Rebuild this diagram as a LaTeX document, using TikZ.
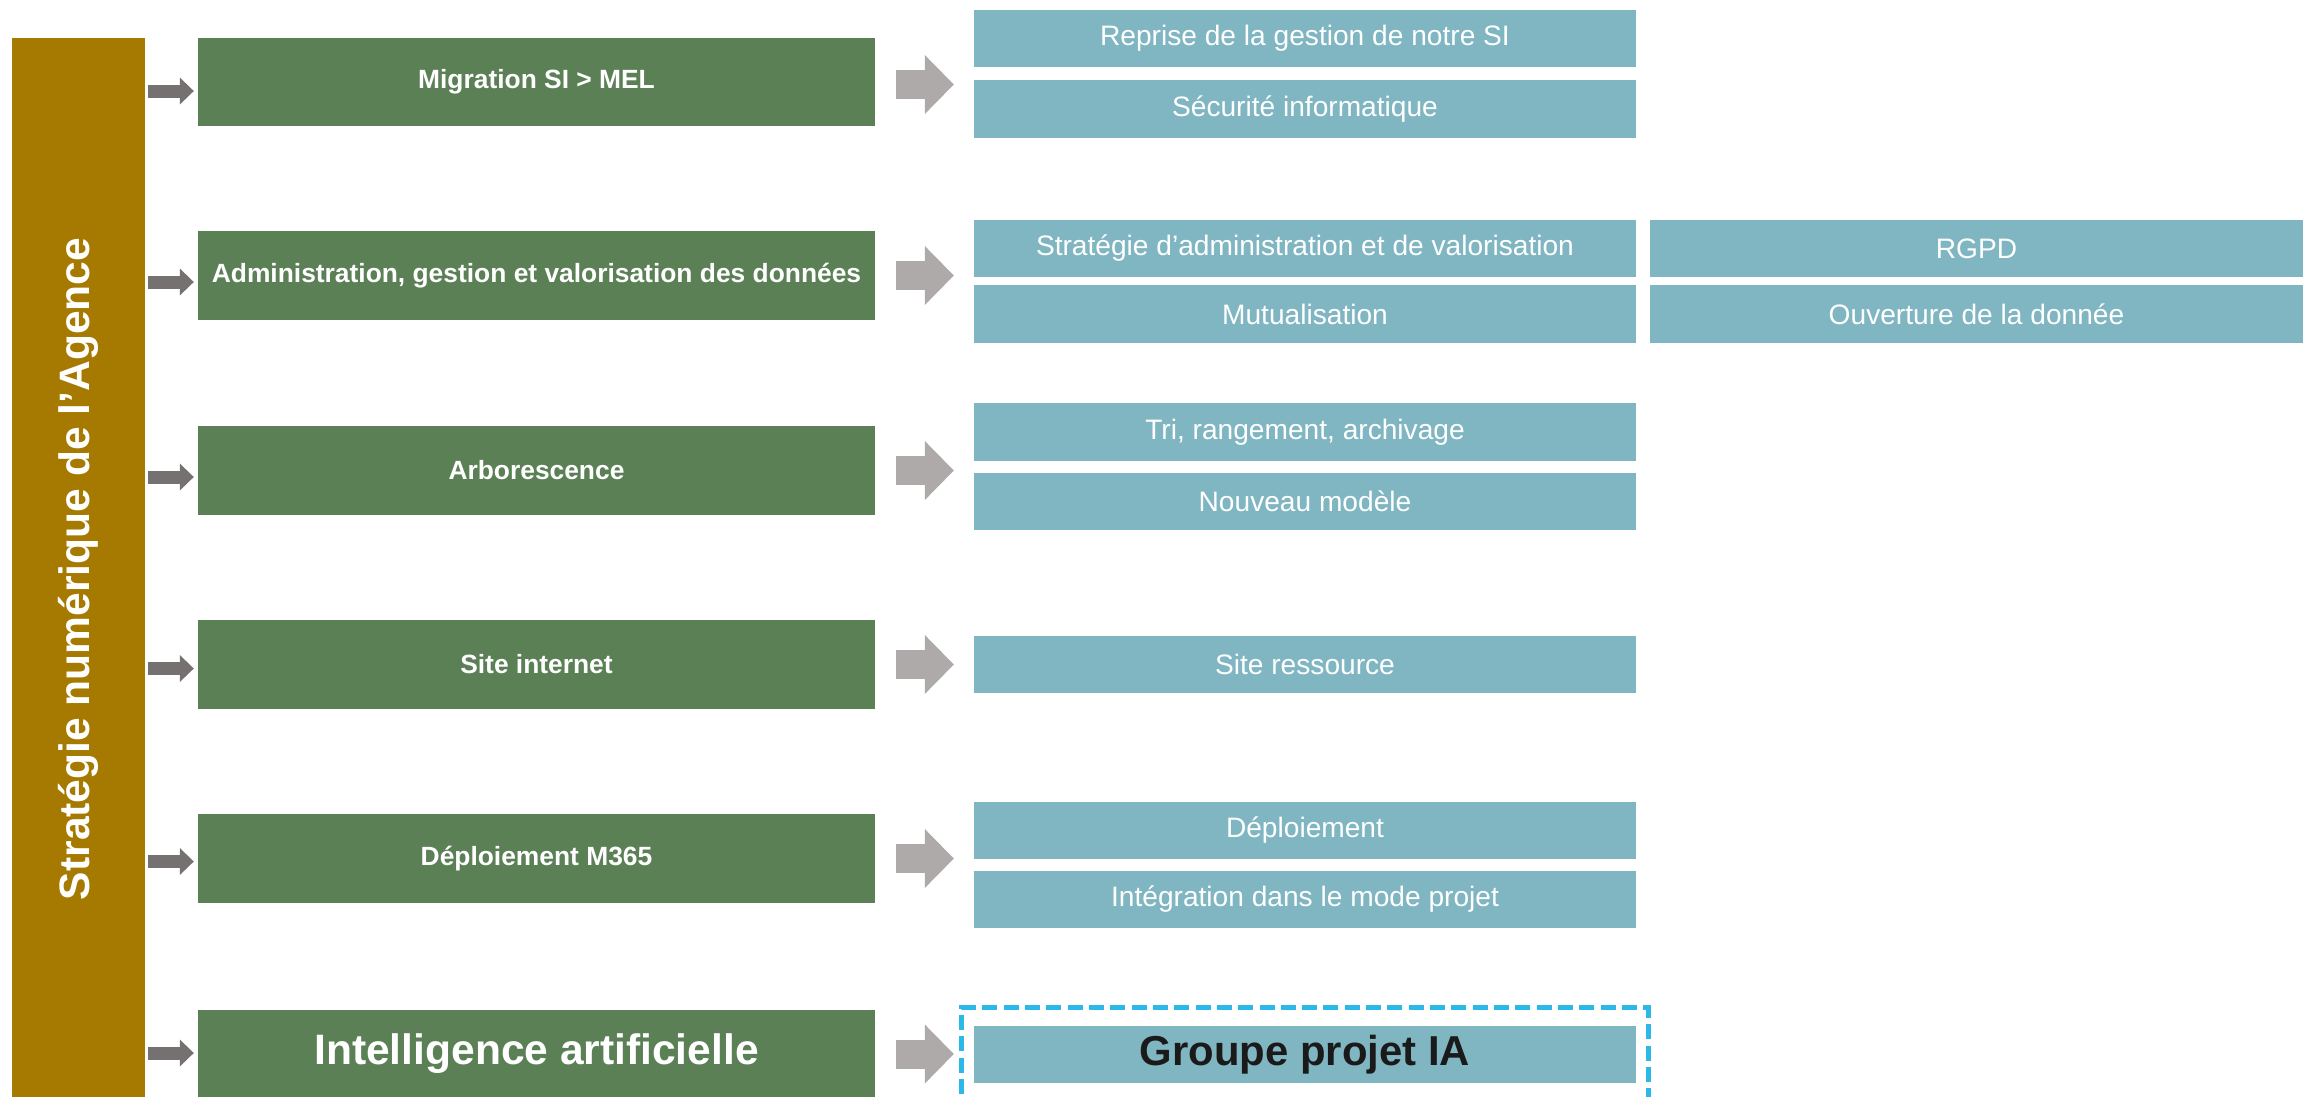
\documentclass[tikz,border=0pt]{standalone}
\usepackage{fontspec}
\usepackage{graphicx}
\setmainfont{Liberation Sans}
\usetikzlibrary{arrows.meta,calc}
\definecolor{gold}{HTML}{A67A00}
\definecolor{grn}{HTML}{5B8056}
\definecolor{blu}{HTML}{7FB6C2}
\definecolor{sgray}{HTML}{767171}
\definecolor{bgray}{HTML}{AEAAAA}
\definecolor{dashblue}{HTML}{2DB8EA}
\definecolor{darktext}{HTML}{1A1A1A}
\begin{document}
\begin{tikzpicture}[x=0.01cm,y=-0.01cm,
  every node/.style={inner sep=0pt, outer sep=0pt},
  barbox/.style={fill=gold, text=white, font=\bfseries\fontsize{12.1}{14}\selectfont, minimum width=1.33cm, minimum height=10.62cm},
  greenbox/.style={fill=grn, text=white, font=\bfseries\fontsize{7.5}{9}\selectfont, minimum width=6.77cm, minimum height=0.88cm},
  bluebox/.style={fill=blu, text=white, font=\fontsize{8}{10}\selectfont, minimum height=0.57cm},
  leftcol/.style={bluebox, minimum width=6.62cm},
  rightcol/.style={bluebox, minimum width=6.53cm},
  smallarr/.style={draw=sgray, line width=0.13cm, -{Triangle[length=0.14cm,width=0.27cm,line width=0pt]}},
  bigarr/.style={draw=bgray, line width=0.29cm, -{Triangle[length=0.29cm,width=0.59cm,line width=0pt]}},
  dashframe/.style={draw=dashblue, line width=0.05cm, dash pattern=on 0.15cm off 0.063cm, minimum width=6.86cm, minimum height=1.12cm}
]
\useasboundingbox (0,0) rectangle (2303,1096);

% left bar
\node[barbox] (bar) at (78.5,569) {\rotatebox{90}{Stratégie numérique de l’Agence}};

% green boxes
\node[greenbox] (g1) at (536.5,82) {Migration SI > MEL};
\node[greenbox] (g2) at (536.5,275.5) {Administration, gestion et valorisation des données};
\node[greenbox] (g3) at (536.5,470.5) {Arborescence};
\node[greenbox] (g4) at (536.5,664.5) {Site internet};
\node[greenbox] (g5) at (536.5,858.5) {Déploiement M365};
\node[greenbox, font=\bfseries\fontsize{12.1}{14}\selectfont] (g6) at (536.5,1054) {Intelligence artificielle};

% blue boxes
\node[leftcol] (b11) at (1305,38.5) {Reprise de la gestion de notre SI};
\node[leftcol] (b12) at (1305,109) {Sécurité informatique};
\node[leftcol] (b21) at (1305,248.5) {Stratégie d’administration et de valorisation};
\node[leftcol] (b22) at (1305,314) {Mutualisation};
\node[rightcol] (b23) at (1976.5,248.5) {RGPD};
\node[rightcol] (b24) at (1976.5,314) {Ouverture de la donnée};
\node[leftcol] (b31) at (1305,432) {Tri, rangement, archivage};
\node[leftcol] (b32) at (1305,501.5) {Nouveau modèle};
\node[leftcol] (b41) at (1305,664) {Site ressource};
\node[leftcol] (b51) at (1305,830) {Déploiement};
\node[leftcol] (b52) at (1305,899.5) {Intégration dans le mode projet};
\node[leftcol, text=darktext, font=\bfseries\fontsize{11.9}{14}\selectfont] (b61) at (1305,1054.5) {Groupe projet IA};
\node[dashframe] (frame) at (1305,1064) {};

% small arrows from bar to green boxes
\draw[smallarr] ($(bar.east |- g1)+(3,9)$) -- ($(g1.west)+(-4,9)$);
\draw[smallarr] ($(bar.east |- g2)+(3,6.5)$) -- ($(g2.west)+(-4,6.5)$);
\draw[smallarr] ($(bar.east |- g3)+(3,6.5)$) -- ($(g3.west)+(-4,6.5)$);
\draw[smallarr] ($(bar.east |- g4)+(3,4)$) -- ($(g4.west)+(-4,4)$);
\draw[smallarr] ($(bar.east |- g5)+(3,3)$) -- ($(g5.west)+(-4,3)$);
\draw[smallarr] ($(bar.east |- g6)+(3,-1)$) -- ($(g6.west)+(-4,-1)$);

% big arrows from green boxes to blue boxes
\draw[bigarr] ($(g1.east)+(21,2.5)$) -- ($(g1.east -| b11.west)+(-20,2.5)$);
\draw[bigarr] ($(g2.east)+(21,0)$) -- ($(g2.east -| b21.west)+(-20,0)$);
\draw[bigarr] ($(g3.east)+(21,0)$) -- ($(g3.east -| b31.west)+(-20,0)$);
\draw[bigarr] ($(g4.east)+(21,0)$) -- ($(g4.east -| b41.west)+(-20,0)$);
\draw[bigarr] ($(g5.east)+(21,0)$) -- ($(g5.east -| b51.west)+(-20,0)$);
\draw[bigarr] ($(g6.east)+(21,0)$) -- ($(g6.east -| b61.west)+(-20,0)$);
\end{tikzpicture}
\end{document}
